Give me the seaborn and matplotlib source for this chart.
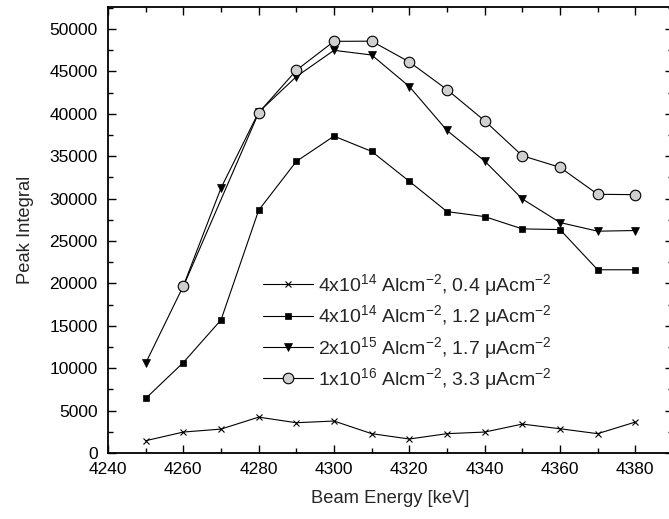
import matplotlib
matplotlib.use("Agg")
import matplotlib.pyplot as plt
import seaborn as sns
import pandas as pd
from matplotlib.ticker import MultipleLocator

# ---- data ----
energy = [4250, 4260, 4270, 4280, 4290, 4300, 4310, 4320, 4330, 4340, 4350, 4360, 4370, 4380]
cross_vals = [1450, 2470, 2820, 4230, 3570, 3770, 2280, 1650, 2280, 2470, 3410, 2860, 2280, 3650]
square_vals = [6430, 10670, 15690, 28630, 34390, 37370, 35570, 32040, 28470, 27880, 26430, 26350, 21610, 21610]
triangle_vals = [10590, 19700, 31250, 40200, 44390, 47490, 46940, 43220, 38040, 34430, 29960, 27180, 26160, 26240]
circle_energy = [4260, 4280, 4290, 4300, 4310, 4320, 4330, 4340, 4350, 4360, 4370, 4380]
circle_vals = [19650, 40120, 45140, 48550, 48570, 46120, 42860, 39180, 35060, 33690, 30510, 30470]

labels = [
    "4x10$^{14}$ Alcm$^{-2}$, 0.4 μAcm$^{-2}$",
    "4x10$^{14}$ Alcm$^{-2}$, 1.2 μAcm$^{-2}$",
    "2x10$^{15}$ Alcm$^{-2}$, 1.7 μAcm$^{-2}$",
    "1x10$^{16}$ Alcm$^{-2}$, 3.3 μAcm$^{-2}$",
]
x_label = "Beam Energy [keV]"
y_label = "Peak Integral"

# ---- style ----
sns.set_style("ticks")
plt.rcParams["font.family"] = ["Liberation Sans", "DejaVu Sans"]
plt.rcParams["mathtext.fontset"] = "custom"
plt.rcParams["mathtext.rm"] = "Liberation Sans"
plt.rcParams["mathtext.it"] = "Liberation Sans:italic"
plt.rcParams["mathtext.bf"] = "Liberation Sans:bold"
plt.rcParams["mathtext.default"] = "regular"

FS = 12.5
LFS = 13.2
LEGFS = 14
fig = plt.figure(figsize=(6.69, 5.19), dpi=100)
W, H = 669, 519
ax = fig.add_axes([108 / W, (H - 453) / H, 565 / W, 446 / H])

lw = 0.8
series = [
    (energy, cross_vals, dict(marker="x", markersize=5, markeredgewidth=0.8,
                              markerfacecolor="black", markeredgecolor="black")),
    (energy, square_vals, dict(marker="s", markersize=4.5, markeredgewidth=0.5,
                               markerfacecolor="black", markeredgecolor="black")),
    (energy, triangle_vals, dict(marker="v", markersize=5.5, markeredgewidth=0.5,
                                 markerfacecolor="black", markeredgecolor="black")),
    (circle_energy, circle_vals, dict(marker="o", markersize=7.6, markeredgewidth=0.8,
                                      markerfacecolor="#d0d0d0", markeredgecolor="black")),
]
for (xs, ys, mk), lab in zip(series, labels):
    df = pd.DataFrame({"x": xs, "y": ys})
    sns.lineplot(data=df, x="x", y="y", ax=ax, color="black", linewidth=lw,
                 label=lab, **mk)

ax.set_xlim(4240, 4390)
ax.set_ylim(0, 52600)
ax.xaxis.set_major_locator(MultipleLocator(20))
ax.xaxis.set_minor_locator(MultipleLocator(10))
ax.yaxis.set_major_locator(MultipleLocator(5000))
ax.yaxis.set_minor_locator(MultipleLocator(2500))
ax.tick_params(which="both", direction="in", top=True, right=True, color="black",
               labelsize=FS, labelcolor="black")
ax.tick_params(which="major", length=6, width=1.0)
ax.tick_params(which="minor", length=3.5, width=1.0)
ax.tick_params(axis="y", which="major", pad=7.5)
ax.tick_params(axis="x", which="major", pad=6.5)
for sp in ax.spines.values():
    sp.set_linewidth(1.3)
    sp.set_color("black")

ax.set_xlabel(x_label, fontsize=LFS, labelpad=9)
ax.set_ylabel(y_label, fontsize=LFS, labelpad=11)

leg = ax.legend(loc="center left", bbox_to_anchor=((263 - 108) / 565, (453 - 332) / 446),
                frameon=False, fontsize=LEGFS, handlelength=2.55, handletextpad=0.28,
                labelspacing=0.28, borderpad=0, borderaxespad=0)

fig.savefig("out.png", dpi=100)
